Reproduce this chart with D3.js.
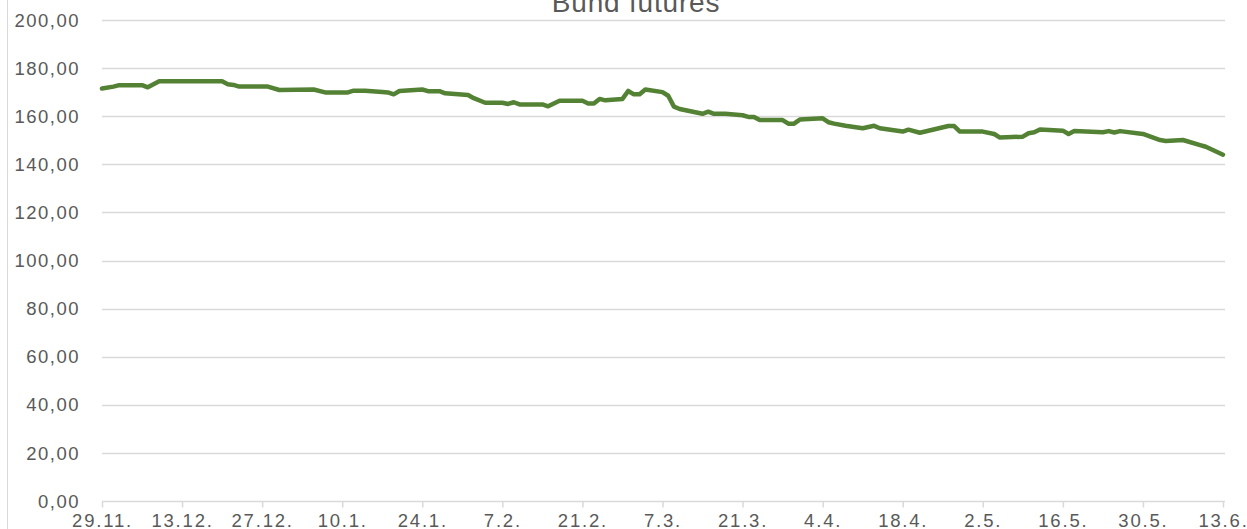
<!DOCTYPE html>
<html>
<head>
<meta charset="utf-8">
<script src="https://cdn.jsdelivr.net/npm/d3@7"></script>
<style>
  html, body { margin: 0; padding: 0; background: #fff; }
  svg { display: block; font-family: "Liberation Sans", Arial, sans-serif; }
</style>
</head>
<body>
<svg id="chart" width="1247" height="529"></svg>
<script>
'use strict';

// Bund futures, daily closes
const dates = [
  '2021-11-29', '2021-12-01', '2021-12-02', '2021-12-06', '2021-12-07', '2021-12-09',
  '2021-12-20', '2021-12-21', '2021-12-22', '2021-12-23', '2021-12-28', '2021-12-30',
  '2022-01-05', '2022-01-07', '2022-01-11', '2022-01-12', '2022-01-14', '2022-01-17',
  '2022-01-18', '2022-01-19', '2022-01-20', '2022-01-24', '2022-01-25', '2022-01-27',
  '2022-01-28', '2022-02-01', '2022-02-02', '2022-02-04', '2022-02-07', '2022-02-08',
  '2022-02-09', '2022-02-10', '2022-02-14', '2022-02-15', '2022-02-17', '2022-02-21',
  '2022-02-22', '2022-02-23', '2022-02-24', '2022-02-25', '2022-02-28', '2022-03-01',
  '2022-03-02', '2022-03-03', '2022-03-04', '2022-03-07', '2022-03-08', '2022-03-09',
  '2022-03-10', '2022-03-14', '2022-03-15', '2022-03-16', '2022-03-18', '2022-03-21',
  '2022-03-22', '2022-03-23', '2022-03-24', '2022-03-28', '2022-03-29', '2022-03-30',
  '2022-03-31', '2022-04-04', '2022-04-05', '2022-04-06', '2022-04-08', '2022-04-11',
  '2022-04-13', '2022-04-14', '2022-04-18', '2022-04-19', '2022-04-21', '2022-04-26',
  '2022-04-27', '2022-04-28', '2022-05-02', '2022-05-04', '2022-05-05', '2022-05-09',
  '2022-05-10', '2022-05-11', '2022-05-12', '2022-05-16', '2022-05-17', '2022-05-18',
  '2022-05-23', '2022-05-24', '2022-05-25', '2022-05-26', '2022-05-30', '2022-06-02',
  '2022-06-03', '2022-06-06', '2022-06-09', '2022-06-10', '2022-06-13'
];

const prices = [
  171.5, 172.3, 172.9, 172.9, 172.0, 174.5,
  174.5, 173.3, 173.0, 172.3, 172.3, 170.9,
  171.1, 169.9, 169.9, 170.6, 170.6, 170.1,
  169.9, 169.1, 170.5, 171.1, 170.4, 170.4,
  169.5, 168.8, 167.5, 165.6, 165.6, 165.1,
  165.8, 164.9, 164.9, 164.1, 166.4, 166.4,
  165.3, 165.3, 167.2, 166.6, 167.2, 170.5,
  169.1, 169.1, 171.1, 170.0, 168.5, 164.0,
  163.0, 161.0, 161.9, 161.0, 161.0, 160.4,
  159.7, 159.7, 158.4, 158.4, 156.9, 156.9,
  158.6, 159.1, 157.5, 156.9, 156.0, 155.0,
  156.0, 155.0, 153.6, 154.4, 153.1, 155.9,
  155.9, 153.6, 153.6, 152.6, 151.1, 151.5,
  152.9, 153.3, 154.5, 154.0, 152.6, 153.8,
  153.3, 153.8, 153.2, 153.8, 152.6, 150.1,
  149.7, 150.1, 148.0, 147.3, 144.0
];

const xTickDates = [
  '2021-11-29', '2021-12-13', '2021-12-27', '2022-01-10', '2022-01-24',
  '2022-02-07', '2022-02-21', '2022-03-07', '2022-03-21', '2022-04-04',
  '2022-04-18', '2022-05-02', '2022-05-16', '2022-05-30', '2022-06-13'
];
const yTicks = [0, 20, 40, 60, 80, 100, 120, 140, 160, 180, 200];
const title = 'Bund futures';

const parse = d3.timeParse('%Y-%m-%d');
const series = dates.map((d, i) => ({ date: parse(d), value: prices[i] }));

const svg = d3.select('#chart');
const grey = '#595959';
const gridColor = '#d9d9d9';

const x = d3.scaleTime()
  .domain([parse(xTickDates[0]), parse(xTickDates[xTickDates.length - 1])])
  .range([102, 1223]);

const y = d3.scaleLinear()
  .domain([0, 200])
  .range([501, 20]);

// chart area border (only the left edge is in frame)
svg.append('line')
  .attr('x1', 7.5).attr('x2', 7.5)
  .attr('y1', 0).attr('y2', 529)
  .attr('stroke', gridColor)
  .attr('stroke-width', 1);

// gridlines
svg.append('g')
  .selectAll('line')
  .data(yTicks.filter(t => t > 0))
  .join('line')
    .attr('x1', 102).attr('x2', 1225)
    .attr('y1', d => Math.round(y(d)) + 0.5)
    .attr('y2', d => Math.round(y(d)) + 0.5)
    .attr('stroke', gridColor)
    .attr('stroke-width', 1.5);

// y axis labels
const fmt = d => d3.format('.2f')(d).replace('.', ',');
svg.append('g')
  .selectAll('text')
  .data(yTicks)
  .join('text')
    .attr('x', 80)
    .attr('y', d => y(d))
    .attr('dy', '0.36em')
    .attr('text-anchor', 'end')
    .attr('fill', grey)
    .attr('font-size', 18.5)
    .attr('letter-spacing', 1.5)
    .text(fmt);

// x axis
const xAxis = d3.axisBottom(x)
  .tickValues(xTickDates.map(parse))
  .tickFormat(d3.timeFormat('%-d.%-m.'))
  .tickSize(6)
  .tickPadding(6);

const gx = svg.append('g')
  .attr('transform', 'translate(0,501.5)')
  .call(xAxis);

gx.select('.domain')
  .attr('stroke', gridColor)
  .attr('stroke-width', 1.5)
  .attr('d', 'M102,0H1225');
gx.selectAll('.tick line')
  .attr('stroke', gridColor)
  .attr('stroke-width', 1.5);
gx.selectAll('.tick text')
  .attr('fill', grey)
  .attr('font-size', 18.5)
  .attr('letter-spacing', 1.8)
  .attr('font-family', '"Liberation Sans", Arial, sans-serif');

// price line
const line = d3.line()
  .x(d => x(d.date))
  .y(d => y(d.value));

svg.append('path')
  .datum(series)
  .attr('fill', 'none')
  .attr('stroke', '#548235')
  .attr('stroke-width', 4.5)
  .attr('stroke-linejoin', 'round')
  .attr('stroke-linecap', 'round')
  .attr('d', line);

// title, cut off by the top edge as in the source
svg.append('text')
  .attr('x', 636)
  .attr('y', 12)
  .attr('text-anchor', 'middle')
  .attr('fill', grey)
  .attr('font-size', 28)
  .attr('letter-spacing', 0.8)
  .text(title);
</script>
</body>
</html>
